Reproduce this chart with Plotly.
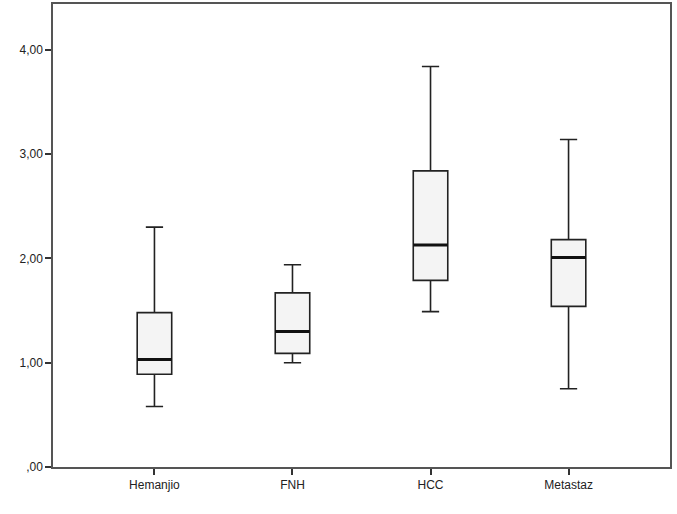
import plotly.graph_objects as go

categories = ["Hemanjio", "FNH", "HCC", "Metastaz"]
lower_whisker = [0.58, 1.00, 1.49, 0.75]
q1_vals = [0.89, 1.09, 1.79, 1.54]
median_vals = [1.03, 1.30, 2.13, 2.01]
q3_vals = [1.48, 1.67, 2.84, 2.18]
upper_whisker = [2.30, 1.94, 3.84, 3.14]
y_tick_vals = [0, 1, 2, 3, 4]
y_tick_text = [",00", "1,00", "2,00", "3,00", "4,00"]

x_pos = list(range(len(categories)))
box_w = 0.25

fig = go.Figure()
fig.add_trace(go.Box(
    x=x_pos, q1=q1_vals, median=median_vals, q3=q3_vals,
    lowerfence=lower_whisker, upperfence=upper_whisker,
    width=box_w, whiskerwidth=0.5,
    fillcolor="#f4f4f4",
    line=dict(color="#222222", width=1.6),
    boxpoints=False, showlegend=False, hoverinfo="skip",
))
# thicker median lines
mx, my = [], []
for xi, m in zip(x_pos, median_vals):
    mx += [xi - box_w / 2, xi + box_w / 2, None]
    my += [m, m, None]
fig.add_trace(go.Scatter(x=mx, y=my, mode="lines",
                         line=dict(color="#111111", width=3),
                         showlegend=False, hoverinfo="skip"))

fig.update_layout(
    width=677, height=514,
    margin=dict(l=53, r=7, t=4, b=47, autoexpand=False),
    paper_bgcolor="white", plot_bgcolor="white",
    font=dict(family="Liberation Sans, Arial, sans-serif", size=12, color="#222222"),
)
fig.update_xaxes(
    range=[-0.735, 3.735], tickvals=x_pos, ticktext=categories,
    showgrid=False, zeroline=False, automargin=False,
    showline=True, mirror=True, linecolor="#555555", linewidth=1.5,
    ticks="outside", ticklen=6, tickwidth=1.5, tickcolor="#333333",
)
fig.update_yaxes(
    range=[0, 4.44], tickvals=y_tick_vals, ticktext=y_tick_text,
    showgrid=False, zeroline=False, automargin=False,
    showline=True, mirror=True, linecolor="#555555", linewidth=1.5,
    ticks="outside", ticklen=6, tickwidth=1.5, tickcolor="#333333",
)
fig.write_html("out.html", config={"displayModeBar": False},
               post_script="document.body.style.margin='0';document.body.style.overflow='hidden';")
